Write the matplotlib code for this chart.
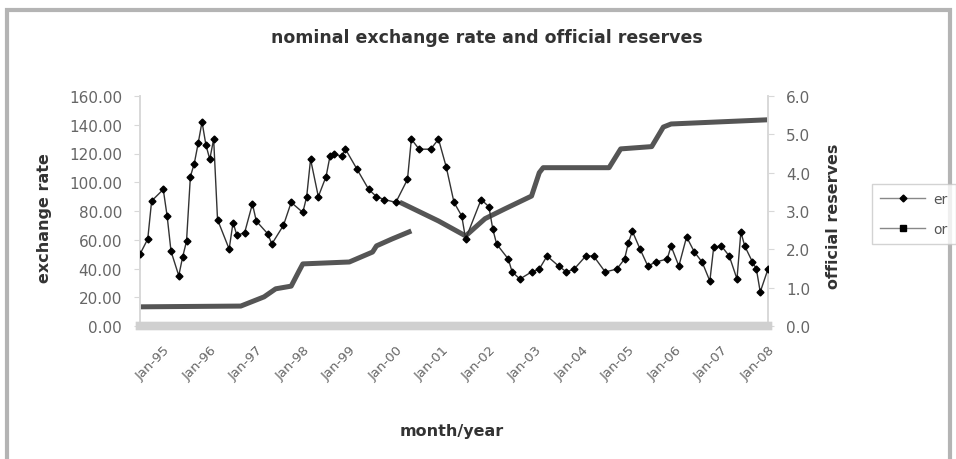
import numpy as np
import matplotlib
matplotlib.use('Agg')
import matplotlib.pyplot as plt
from matplotlib import lines
from matplotlib.patches import Rectangle

# months counted from Jul-94 (index 0)
tick_pos = [6, 18, 30, 42, 54, 66, 78, 90, 102, 114, 126, 138, 150, 162]
tick_labels = ['Jan-95', 'Jan-96', 'Jan-97', 'Jan-98', 'Jan-99', 'Jan-00', 'Jan-01',
               'Jan-02', 'Jan-03', 'Jan-04', 'Jan-05', 'Jan-06', 'Jan-07', 'Jan-08']

# nominal exchange rate (left axis)
er_month = [0, 2, 3, 6, 7, 8, 10, 11, 12, 13, 14, 15, 16, 17, 18, 19, 20, 23, 24, 25,
            27, 29, 30, 33, 34, 37, 39, 42, 43, 44, 46, 48, 49, 50, 52, 53, 56, 59, 61,
            63, 66, 69, 70, 72, 75, 77, 79, 81, 83, 84, 88, 90, 91, 92, 95, 96, 98, 101,
            103, 105, 108, 110, 112, 115, 117, 120, 123, 125, 126, 127, 129, 131, 133,
            136, 137, 139, 141, 143, 145, 147, 148, 150, 152, 154, 155, 156, 158, 159,
            160, 162]
er_value = [50, 60.5, 87, 95, 76.5, 52, 35, 48, 59, 104, 113, 127, 142, 126, 116, 130, 74,
            53.5, 72, 63, 65, 85, 73, 64, 57, 70, 86, 79, 90, 116, 90, 104, 118, 120, 118,
            123, 109, 95, 90, 88, 86, 102, 130, 123, 123, 130, 110.6, 86, 76.5, 60.5, 88,
            83, 67.5, 57, 46.6, 37.6, 32.7, 37.6, 39.6, 48.7, 41.7, 37.6, 39.6, 48.7, 48.7,
            37.6, 39.6, 46.6, 58, 66, 53.5, 41.7, 44.5, 46.6, 55.6, 41.7, 62, 51.5, 44.5,
            31.3, 55, 55.6, 48.7, 32.7, 65.4, 55.6, 44.5, 39.6, 23.7, 39.6]

# official reserves (right axis), gap where the series breaks
res_month = [0, 26, 32, 35, 39, 41, 42, 54, 60, 61, 65, 70, 70, 67, 77, 84, 89, 94, 101,
             103, 104, 121, 124, 132, 135, 137, 162]
res_value = [0.50, 0.52, 0.76, 0.97, 1.04, 1.43, 1.62, 1.67, 1.93, 2.09, 2.27, 2.48, np.nan,
             3.23, 2.74, 2.35, 2.80, 3.05, 3.39, 4.00, 4.13, 4.13, 4.62, 4.68, 5.19, 5.27,
             5.38]

W, H = 956, 460
fig = plt.figure(figsize=(W / 100, H / 100), dpi=100)
fig.patches.append(Rectangle((7 / W, -0.1), 943 / W, 1.1 - 11 / H, transform=fig.transFigure,
                             fill=False, edgecolor='#b4b4b4', lw=3))

ax = fig.add_axes([140 / W, 1 - 327 / H, 628 / W, 230 / H])
ax2 = ax.twinx()

ax2.plot(res_month, res_value, color='#555555', lw=3.6, solid_capstyle='butt', zorder=2)
ax.plot(er_month, er_value, color='#333333', lw=1, marker='D', ms=3.5,
        mfc='black', mec='black', zorder=3)
ax.set_zorder(ax2.get_zorder() + 1)
ax.patch.set_visible(False)

ax.set_xlim(0, 162)
ax.set_ylim(0, 160)
ax2.set_ylim(0, 6)
ax.set_yticks(np.arange(0, 161, 20))
ax.set_yticklabels(['%.2f' % v for v in np.arange(0, 161, 20)])
ax2.set_yticks(np.arange(0, 6.1, 1))
ax2.set_yticklabels(['%.1f' % v for v in np.arange(0, 6.1, 1)])
ax.set_xticks(tick_pos)
ax.set_xticklabels(tick_labels, rotation=45, ha='right', rotation_mode='anchor')

for a in [ax, ax2]:
    a.spines['top'].set_visible(False)
    a.spines['left'].set_color('#d8d8d8')
    a.spines['right'].set_color('#d8d8d8')
    a.spines['left'].set_linewidth(1.2)
    a.spines['right'].set_linewidth(1.2)
    a.spines['bottom'].set_color('#d0d0d0')
    a.spines['bottom'].set_linewidth(6)
ax.tick_params(axis='y', labelsize=11, colors='#666666', length=4, pad=9)
ax2.tick_params(axis='y', labelsize=11, colors='#666666', length=4, pad=9)
ax.tick_params(axis='y', color='#d8d8d8')
ax2.tick_params(axis='y', color='#d8d8d8')
ax.tick_params(axis='x', labelsize=9.5, labelcolor='#666666', length=0, pad=12)

fig.text(487 / W, 1 - 38 / H, 'nominal exchange rate and official reserves', ha='center',
         va='center', fontsize=12.5, fontweight='bold', color='#333333')
fig.text(44 / W, 1 - 218 / H, 'exchange rate', rotation=90, ha='center', va='center',
         fontsize=11.5, fontweight='bold', color='#333333')
fig.text(833 / W, 1 - 216 / H, 'official reserves', rotation=90, ha='center', va='center',
         fontsize=11.5, fontweight='bold', color='#333333')
fig.text(452 / W, 1 - 432 / H, 'month/year', ha='center', va='center',
         fontsize=11.5, fontweight='bold', color='#333333')

line1 = lines.Line2D([0], [0], label='er', lw=1, c='#888888', marker='D', ms=3.5,
                     mfc='black', mec='black')
line2 = lines.Line2D([0], [0], label='or', lw=1, c='#888888', marker='s', ms=4.5,
                     mfc='black', mec='black')
leg = fig.legend(handles=[line1, line2], loc='upper left', bbox_to_anchor=(865 / W, 1 - 178 / H),
                 fontsize=10, frameon=True, fancybox=False, edgecolor='#c8c8c8',
                 handlelength=3.2, labelspacing=1.1, borderpad=0.6, handletextpad=0.6)
for t in leg.get_texts():
    t.set_color('#555555')

fig.savefig('out.png', dpi=100)
